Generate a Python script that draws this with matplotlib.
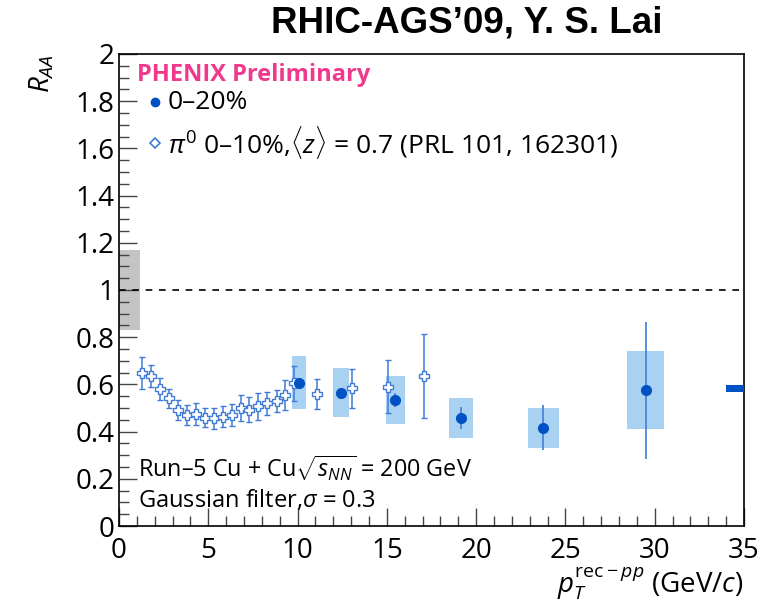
import matplotlib
matplotlib.use("Agg")
import matplotlib.pyplot as plt
from matplotlib.patches import Rectangle
from matplotlib.ticker import MultipleLocator

plt.rcParams['font.family'] = ['Open Sans', 'DejaVu Sans']
plt.rcParams['mathtext.fontset'] = 'custom'
plt.rcParams['mathtext.rm'] = 'Open Sans'
plt.rcParams['mathtext.it'] = 'Open Sans:italic'

# Cu+Cu 0-20% reconstructed jets
jet_pt = [10.08, 12.43, 15.46, 19.15, 23.76, 29.49]
jet_raa = [0.607, 0.565, 0.534, 0.459, 0.417, 0.576]
jet_stat = [0.02, 0.02, 0.028, 0.046, 0.094, 0.29]
jet_sys = [0.113, 0.104, 0.101, 0.085, 0.085, 0.165]
jet_binhw = [0.37, 0.45, 0.53, 0.67, 0.86, 1.05]

# pi0 0-10%, scaled by <z> = 0.7
pi0_pt = [1.30, 1.79, 2.30, 2.80, 3.32, 3.82, 4.31, 4.83, 5.32, 5.84, 6.31,
          6.82, 7.30, 7.80, 8.31, 8.83, 9.30, 9.82, 11.07, 13.07, 15.05, 17.08]
pi0_raa = [0.647, 0.636, 0.580, 0.541, 0.492, 0.470, 0.475, 0.459, 0.456,
           0.463, 0.470, 0.499, 0.492, 0.508, 0.520, 0.530, 0.555, 0.605,
           0.559, 0.583, 0.590, 0.636]
pi0_err = [0.068, 0.048, 0.046, 0.039, 0.042, 0.042, 0.046, 0.040, 0.046,
           0.045, 0.046, 0.056, 0.053, 0.057, 0.049, 0.045, 0.062, 0.074,
           0.064, 0.083, 0.113, 0.177]

# global uncertainties
ncoll_unc = 0.17     # grey band at unity
norm_val = 0.582     # normalisation marker at right edge
norm_unc = 0.014

blue = '#0052c4'
light = '#a9d1f2'
open_c = '#3f7bd6'

fig = plt.figure(figsize=(7.74, 6.12), dpi=100)
ax = fig.add_axes([0.1537, 0.1405, 0.8075, 0.7713])
ax.set_xlim(0, 35)
ax.set_ylim(0, 2)

ax.add_patch(Rectangle((0, 1 - ncoll_unc), 1.2, 2 * ncoll_unc,
                       color='#c4c4c4', lw=0, zorder=1))
ax.add_patch(Rectangle((34, norm_val - norm_unc), 1.0, 2 * norm_unc,
                       color=blue, lw=0, zorder=3))
ax.axhline(1, color='black', ls=(0, (4, 4)), lw=1.2, zorder=2)

for x, y, s, hw in zip(jet_pt, jet_raa, jet_sys, jet_binhw):
    ax.add_patch(Rectangle((x - hw, y - s), 2 * hw, 2 * s,
                           color=light, lw=0, zorder=2))

ax.errorbar(pi0_pt, pi0_raa, yerr=pi0_err, fmt='P', ms=6.5, mfc='white',
            mec=open_c, mew=1.0, ecolor=open_c, elinewidth=1.1, capsize=2,
            zorder=4)
ax.errorbar(jet_pt, jet_raa, yerr=jet_stat, fmt='o', ms=7, color=blue,
            ecolor='#4a86d8', elinewidth=1.3, capsize=0, zorder=5)

ax.xaxis.set_major_locator(MultipleLocator(5))
ax.xaxis.set_minor_locator(MultipleLocator(1))
ax.yaxis.set_major_locator(MultipleLocator(0.2))
ax.yaxis.set_minor_locator(MultipleLocator(0.05))
ax.tick_params(which='both', direction='in', top=False, right=False,
               labelsize=20, color='#444444', pad=3)
ax.tick_params(axis='x', which='both', pad=8)
ax.tick_params(which='major', length=13, width=1)
ax.tick_params(which='minor', length=7, width=1)
ax.set_yticks([0, 0.2, 0.4, 0.6, 0.8, 1, 1.2, 1.4, 1.6, 1.8, 2])
ax.set_yticklabels(['0', '0.2', '0.4', '0.6', '0.8', '1', '1.2', '1.4',
                    '1.6', '1.8', '2'])
for sp in ax.spines.values():
    sp.set_linewidth(1.2)

ax.set_xlabel(r'$p_T^{\mathrm{rec}-pp}$ (GeV/$c$)', fontsize=20,
              loc='right', labelpad=0)
ax.set_ylabel(r'$R_{AA}$', fontsize=20, loc='top', labelpad=14)

ax.text(1.0, 1.91, 'PHENIX Preliminary', color='#f0388c', fontsize=17,
        fontweight='bold', va='center')
ax.plot([2.0], [1.795], 'o', ms=6, color=blue)
ax.text(2.74, 1.795, '0\u201320%', fontsize=19, va='center')
ax.plot([2.0], [1.623], 'D', ms=5, mfc='white', mec=open_c, mew=1.2)
ax.text(2.74, 1.623,
        r'$\pi^0$ 0' + '\u2013' + r'10%,$\langle z\rangle$ = 0.7 (PRL 101, 162301)',
        fontsize=19, va='center')
ax.text(1.06, 0.246, 'Run\u20135 Cu + Cu' + r'$\sqrt{s_{NN}}$ = 200 GeV',
        fontsize=16.8, va='center')
ax.text(1.06, 0.110, r'Gaussian filter,$\sigma$ = 0.3', fontsize=17,
        va='center')

fig.text(0.35, 0.963, 'RHIC-AGS\u201909, Y. S. Lai', fontsize=26.5,
         fontweight='bold', family='Liberation Sans', va='center')

fig.savefig('out.png', dpi=100)
